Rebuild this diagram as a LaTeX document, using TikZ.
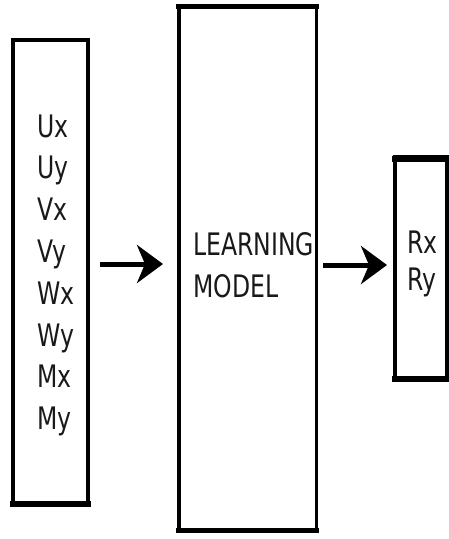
\documentclass[tikz,border=0pt]{standalone}
\usepackage{fontspec}
\setmainfont{DejaVu Sans}
\usetikzlibrary{arrows.meta,calc}
\tikzset{
  boxnode/.style={draw=black, line width=4pt, outer sep=0pt, inner sep=0pt, fill=none},
  thickedge/.style={line width=#1, line cap=rect},
  lbl/.style={font=\fontsize{31}{36}\selectfont, inner sep=0pt, anchor=base west, xscale=0.76, transform shape, text=black!90},
  arr/.style={line width=5pt, -{Stealth[length=26pt,width=38pt,inset=8pt]}}
}
\begin{document}
\begin{tikzpicture}[x=1pt,y=-1pt]
\useasboundingbox (0,0) rectangle (449,539);
% boxes
\node[boxnode, minimum width=75pt, minimum height=465pt] (L) at (50.5,272.5) {};
\node[boxnode, line width=3.5pt, minimum width=137.5pt, minimum height=525.5pt] (M) at (247.5,268.5) {};
\node[boxnode, minimum width=52pt, minimum height=223pt] (R) at (421,268.5) {};
% heavier top/bottom edges
\draw[thickedge=6pt] ($(L.south west)+(0,-1.5)$) -- ($(L.south east)+(0,-1.5)$);
\draw[thickedge=5pt] ($(M.north west)+(0,0.75)$) -- ($(M.north east)+(0,0.75)$);
\draw[thickedge=5pt] ($(M.south west)+(0,-0.75)$) -- ($(M.south east)+(0,-0.75)$);
\draw[thickedge=6pt] ($(R.north west)+(0,1.5)$) -- ($(R.north east)+(0,1.5)$);
\draw[thickedge=6pt] ($(R.south west)+(0,-1.5)$) -- ($(R.south east)+(0,-1.5)$);
% left labels
\node[lbl] (ux) at (37,137) {Ux};
\node[lbl] (uy) at (37,178.8) {Uy};
\node[lbl] (vx) at (37,220.6) {Vx};
\node[lbl] (vy) at (37,262.4) {Vy};
\node[lbl] (wx) at (37,304.2) {Wx};
\node[lbl] (wy) at (37,346) {Wy};
\node[lbl] (mx) at (37,387.8) {Mx};
\node[lbl] (my) at (37,429.6) {My};
% middle labels
\node[lbl] (learn) at (193,255) {LEARNING};
\node[lbl] (model) at (193,297) {MODEL};
% right labels
\node[lbl] (rx) at (407,253) {Rx};
\node[lbl] (ry) at (407,290) {Ry};
% arrows
\draw[arr, shorten <=12pt, shorten >=15.75pt] (L.east |- 0,264) -- (M.west |- 0,264);
\draw[arr, shorten <=6.75pt, shorten >=8pt] (M.east |- 0,265) -- (R.west |- 0,265);
\end{tikzpicture}
\end{document}
